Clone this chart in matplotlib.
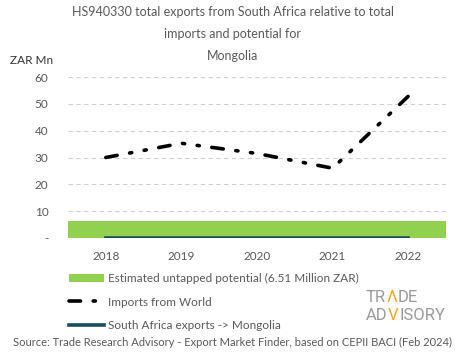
import matplotlib
matplotlib.use('Agg')
import matplotlib.pyplot as plt
import matplotlib.ticker as mticker

years = ['2018', '2019', '2020', '2021', '2022']
imports_world = [30.0, 35.3, 31.5, 26.0, 52.8]
sa_exports = [0.0, 0.0, 0.0, 0.0, 0.0]
potential = [6.51, 6.51, 6.51, 6.51, 6.51]

title = 'HS940330 total exports from South Africa relative to total\nimports and potential for\nMongolia'
source = 'Source: Trade Research Advisory - Export Market Finder, based on CEPII BACI (Feb 2024)'

plt.rcParams['font.family'] = ['Lato', 'DejaVu Sans']
grey = '#595959'

fig = plt.figure(figsize=(4.65, 3.59), dpi=100)
ax = fig.add_axes([68 / 465, 1 - 238 / 359, 378 / 465, 161 / 359])

x = list(range(len(years)))
bars = ax.bar(x, potential, width=1.0, color='#92d050', zorder=2,
              label='Estimated untapped potential (6.51 Million ZAR)')
imp, = ax.plot(x, imports_world, color='black', linewidth=2.6, zorder=3,
               dashes=(3.2, 3.5, 0.6, 3.5, 0.6, 3.5), dash_capstyle='round',
               label='Imports from World')
sa, = ax.plot(x, sa_exports, color='#1b4d5c', linewidth=2.6, zorder=4,
              label='South Africa exports -> Mongolia')

ax.set_xlim(-0.5, 4.5)
ax.set_ylim(0, 60)
ax.set_xticks(x)
ax.set_xticklabels(years)
ax.set_yticks(range(0, 61, 10))
ax.yaxis.set_major_formatter(mticker.FuncFormatter(lambda v, p: '-' if v == 0 else '%d' % v))
ax.grid(axis='y', color='#d0d0d0', linestyle=(0, (4, 3)), linewidth=0.8, zorder=0)
for s in ax.spines.values():
    s.set_visible(False)
ax.tick_params(length=0, labelsize=8.5, labelcolor=grey)
ax.tick_params(axis='y', pad=14)
ax.tick_params(axis='x', pad=9)

fig.text(0.5, 1 - 6 / 359, title, ha='center', va='top', fontsize=9,
         color=grey, linespacing=2.0)
fig.text(10 / 465, 1 - 60 / 359, 'ZAR Mn', ha='left', va='center', fontsize=8.5, color='#333333')

leg = fig.legend([bars, imp, sa], [bars.get_label(), imp.get_label(), sa.get_label()],
                 loc='upper left', bbox_to_anchor=(64 / 465, 1 - 268 / 359),
                 frameon=False, fontsize=8.5, handlelength=3.0, handletextpad=0.3,
                 labelspacing=1.08, borderaxespad=0)
for t in leg.get_texts():
    t.set_color(grey)

fig.text(0.5, 1 - 342 / 359, source, ha='center', va='center', fontsize=8.0, color=grey)

# logo
logo_grey = '#9a9a9a'
orange = '#f5a623'
fs = 12
renderer = fig.canvas.get_renderer()
rows = [(298, [('TR', logo_grey), ('\u039b', orange), ('DE', logo_grey)]),
        (316, [('AD', logo_grey), ('V', orange), ('ISORY', logo_grey)])]
for ypix, parts in rows:
    xpos = 366 / 465
    for txt, col in parts:
        t = fig.text(xpos, 1 - ypix / 359, txt, fontsize=fs, color=col, va='center', ha='left',
                     family=['Roboto', 'DejaVu Sans'])
        bb = t.get_window_extent(renderer)
        xpos = (bb.x1 + 0.5) / fig.bbox.width

fig.savefig('out.png', dpi=100)
